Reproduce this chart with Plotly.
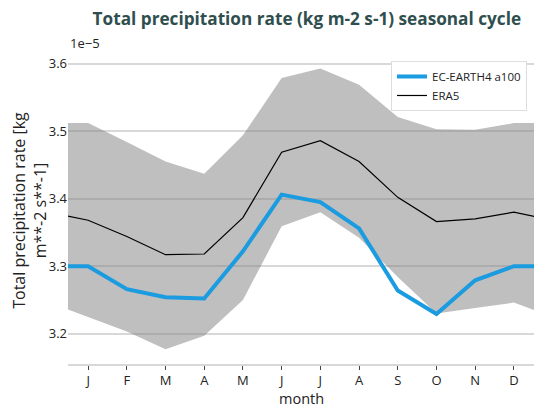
"""
Seasonal cycle of total precipitation rate: model vs ERA5 with spread band
"""
import plotly.graph_objects as go

month_labels = ["J", "F", "M", "A", "M", "J", "J", "A", "S", "O", "N", "D"]
months = list(range(1, 13))

# values in units of 1e-5 kg m-2 s-1
ec_earth = [3.300, 3.266, 3.254, 3.252, 3.322, 3.406, 3.395, 3.356, 3.264, 3.229, 3.279, 3.300]
era5 = [3.368, 3.344, 3.317, 3.318, 3.372, 3.469, 3.486, 3.455, 3.402, 3.366, 3.370, 3.380]
band_upper = [3.512, 3.484, 3.455, 3.437, 3.494, 3.579, 3.593, 3.569, 3.521, 3.503, 3.502, 3.512]
band_lower = [3.225, 3.203, 3.177, 3.197, 3.250, 3.359, 3.380, 3.342, 3.284, 3.230, 3.238, 3.246]


def wrap(vals):
    # add December before January and January after December so the cycle closes
    return [vals[-1]] + list(vals) + [vals[0]]


x = [0] + months + [13]

fig = go.Figure()
fig.add_trace(go.Scatter(x=x, y=wrap(band_upper), mode="lines", line=dict(width=0),
                         showlegend=False, hoverinfo="skip"))
fig.add_trace(go.Scatter(x=x, y=wrap(band_lower), mode="lines", line=dict(width=0),
                         fill="tonexty", fillcolor="rgba(128,128,128,0.5)",
                         showlegend=False, hoverinfo="skip"))
fig.add_trace(go.Scatter(x=x, y=wrap(ec_earth), mode="lines", name="EC-EARTH4 a100",
                         line=dict(color="#1b9be0", width=4)))
fig.add_trace(go.Scatter(x=x, y=wrap(era5), mode="lines", name="ERA5",
                         line=dict(color="black", width=1.2)))

# the page body has an 8px margin, so the figure is 16px smaller than the window
fig.update_layout(
    width=528, height=400,
    title=dict(text="<b>Total precipitation rate (kg m-2 s-1) seasonal cycle</b>",
               x=0.566, xanchor="center", y=0.972, yanchor="middle",
               font=dict(size=17.2, color="#2f4f4f")),
    paper_bgcolor="white",
    plot_bgcolor="white",
    font=dict(family="Open Sans, DejaVu Sans, sans-serif", size=13, color="#222222"),
    margin=dict(l=60, r=2, t=49, b=44, autoexpand=False),
    legend=dict(x=0.985, y=0.987, xanchor="right", yanchor="top", traceorder="normal",
                bgcolor="white", bordercolor="#dddddd", borderwidth=1,
                font=dict(size=11.5), tracegroupgap=0, itemwidth=30),
    annotations=[
        dict(text="1e\u22125", xref="paper", yref="paper", x=0, y=1.01,
             xanchor="left", yanchor="bottom", showarrow=False, font=dict(size=13)),
        dict(text="month", xref="paper", yref="paper", x=0.5, y=-0.113,
             xanchor="center", yanchor="middle", showarrow=False, font=dict(size=14.5)),
    ],
)
fig.update_xaxes(
    range=[0.48, 12.52], tickmode="array", tickvals=months, ticktext=month_labels,
    showgrid=False, zeroline=False, automargin=False,
    showline=True, linecolor="#d8d8d8", linewidth=1.5,
    ticks="outside", ticklen=4, tickcolor="#444444",
)
fig.update_yaxes(
    range=[3.155, 3.61], tickvals=[3.2, 3.3, 3.4, 3.5, 3.6], tickformat=".1f",
    showgrid=True, gridcolor="#d8d8d8", gridwidth=1.5, zeroline=False, showline=False,
    automargin=True,
    title=dict(text="Total precipitation rate [kg<br>m**-2 s**-1]", standoff=6),
)

fig.write_html("out.html")
